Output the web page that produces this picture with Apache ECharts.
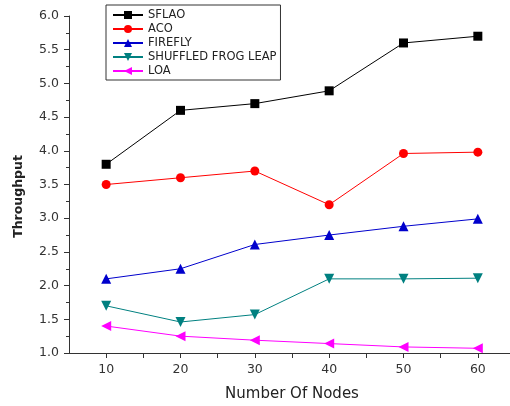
<!DOCTYPE html>
<html>
<head>
<meta charset="utf-8">
<script src="https://cdn.jsdelivr.net/npm/echarts@6/dist/echarts.min.js"></script>
<style>
  html, body { margin: 0; padding: 0; background: #fff; }
  #chart { width: 510px; height: 406px; }
</style>
</head>
<body>
<div id="chart"></div>
<script>
// data
var nodes = [10, 20, 30, 40, 50, 60];
var sflao = [3.8, 4.6, 4.7, 4.89, 5.6, 5.7];
var aco = [3.5, 3.6, 3.7, 3.2, 3.96, 3.98];
var firefly = [2.1, 2.25, 2.61, 2.75, 2.88, 2.99];
var frogLeap = [1.7, 1.46, 1.57, 2.1, 2.1, 2.11];
var loa = [1.4, 1.25, 1.19, 1.14, 1.09, 1.07];

function pairs(vals) {
  return nodes.map(function (n, i) { return [n, vals[i]]; });
}

function mkSeries(name, vals, color, symbol, rotate, size) {
  return {
    name: name,
    type: 'line',
    data: pairs(vals),
    symbol: symbol,
    symbolRotate: rotate,
    symbolSize: size,
    showAllSymbol: true,
    lineStyle: { color: color, width: 1 },
    itemStyle: { color: color },
    emphasis: { disabled: true }
  };
}

var font = '"DejaVu Sans", Arial, sans-serif';

var chart = echarts.init(document.getElementById('chart'));
chart.setOption({
  animation: false,
  textStyle: { fontFamily: font },
  grid: { left: 69, top: 16, width: 446, height: 337, outerBoundsMode: 'none', containLabel: false },
  legend: {
    orient: 'vertical',
    left: 106,
    top: 5,
    padding: [4, 4, 3, 6],
    itemGap: 2,
    itemWidth: 30,
    itemHeight: 10,
    borderColor: '#333',
    borderWidth: 1,
    textStyle: { fontSize: 11.5, color: '#222', fontFamily: font },
    data: ['SFLAO', 'ACO', 'FIREFLY', 'SHUFFLED FROG LEAP', 'LOA']
  },
  xAxis: {
    type: 'value',
    min: 5,
    max: 65,
    interval: 5,
    name: 'Number Of Nodes',
    nameLocation: 'middle',
    nameGap: 34,
    nameTextStyle: { fontSize: 15, color: '#222', fontFamily: font },
    axisLine: { lineStyle: { color: '#333' } },
    axisTick: { show: true, inside: false, length: 5, lineStyle: { color: '#333' } },
    axisLabel: {
      fontSize: 12.5, color: '#333', margin: 10, showMinLabel: false,
      formatter: function (v) { return nodes.indexOf(v) >= 0 ? String(v) : ''; }
    },
    splitLine: { show: false }
  },
  yAxis: {
    type: 'value',
    min: 1,
    max: 6,
    interval: 0.5,
    name: 'Throughput',
    nameLocation: 'middle',
    nameGap: 44,
    nameTextStyle: { fontSize: 12.5, fontWeight: 'bold', color: '#222', fontFamily: font, padding: [0, 24, 0, 0] },
    axisLine: { show: true, lineStyle: { color: '#333' } },
    axisTick: { show: true, length: 5, lineStyle: { color: '#333' } },
    minorTick: { show: true, splitNumber: 2, length: 3, lineStyle: { color: '#333' } },
    axisLabel: {
      fontSize: 12.5, color: '#333', margin: 10,
      formatter: function (v) { return v.toFixed(1); }
    },
    splitLine: { show: false }
  },
  series: [
    mkSeries('SFLAO', sflao, '#000000', 'rect', 0, 9),
    mkSeries('ACO', aco, '#ff0000', 'circle', 0, 9),
    mkSeries('FIREFLY', firefly, '#0000cc', 'triangle', 0, 10),
    mkSeries('SHUFFLED FROG LEAP', frogLeap, '#008080', 'triangle', 180, 10),
    mkSeries('LOA', loa, '#ff00ff', 'triangle', 90, 10)
  ]
});
</script>
</body>
</html>
